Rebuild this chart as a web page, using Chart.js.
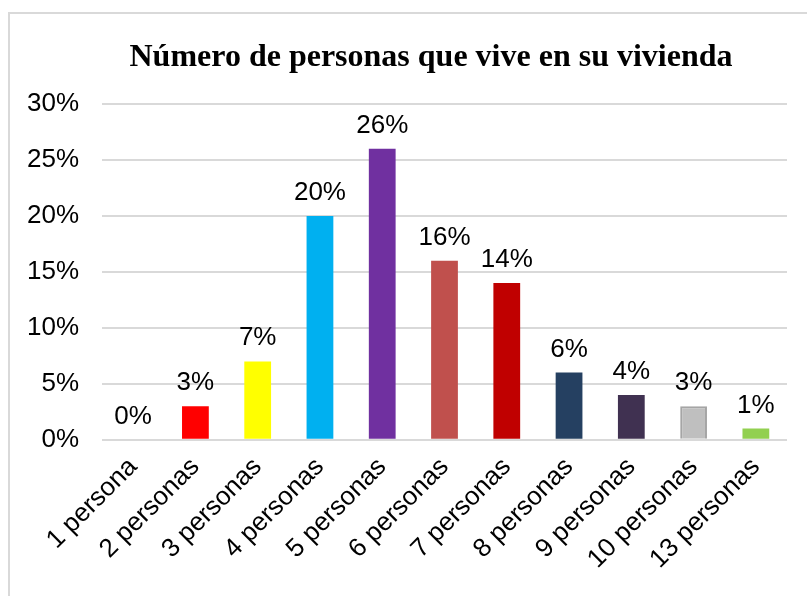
<!DOCTYPE html>
<html>
<head>
<meta charset="utf-8">
<script src="https://cdn.jsdelivr.net/npm/chart.js@4.4.1/dist/chart.umd.min.js"></script>
<style>
  body { margin: 0; background: #fff; }
  .frame {
    position: absolute;
    left: 8px;
    top: 12px;
    width: 820px;
    height: 600px;
    border-left: 2px solid #d9d9d9;
    border-top: 2px solid #d9d9d9;
  }
  canvas { display: block; }
</style>
</head>
<body>
<div class="frame"><canvas id="chart" width="797" height="582"></canvas></div>
<script>
const titleText = 'Número de personas que vive en su vivienda';
const categories = ['1 persona', '2 personas', '3 personas', '4 personas', '5 personas', '6 personas',
    '7 personas', '8 personas', '9 personas', '10 personas', '13 personas'];
const percentages = [0, 3, 7, 20, 26, 16, 14, 6, 4, 3, 1];
const barColors = ['#4472C4', '#FF0000', '#FFFF00', '#00B0F0', '#7030A0', '#C0504D',
    '#C00000', '#254061', '#403151', '#BFBFBF', '#92D050'];
const yTicks = [0, 5, 10, 15, 20, 25, 30];

// draws the value on top of every bar, like the excel data labels
const valueLabels = {
    id: 'valueLabels',
    afterDatasetsDraw(chart) {
        const ctx = chart.ctx;
        const meta = chart.getDatasetMeta(0);
        ctx.save();
        ctx.font = '26px "Liberation Sans", Arial, sans-serif';
        ctx.fillStyle = '#000';
        ctx.textAlign = 'center';
        ctx.textBaseline = 'alphabetic';
        meta.data.forEach((bar, i) => {
            ctx.fillText(percentages[i] + '%', bar.x, bar.y - 16);
        });
        ctx.restore();
    }
};

// title is not centred on the frame in the original, so place it by hand
const titlePlugin = {
    id: 'titlePlugin',
    afterDraw(chart) {
        const ctx = chart.ctx;
        ctx.save();
        ctx.font = 'bold 32px "Liberation Serif", "Times New Roman", serif';
        ctx.fillStyle = '#000';
        ctx.textAlign = 'center';
        ctx.textBaseline = 'alphabetic';
        ctx.fillText(titleText, 421, 52);
        ctx.restore();
    }
};

new Chart(document.getElementById('chart'), {
    type: 'bar',
    data: {
        labels: categories,
        datasets: [{
            data: percentages,
            backgroundColor: barColors,
            borderColor: barColors.map((c, i) => i === 9 ? '#A5A5A5' : c),
            borderWidth: percentages.map((v, i) => i === 9 ? 2 : 0),
            categoryPercentage: 0.86,
            barPercentage: 0.5
        }]
    },
    options: {
        responsive: false,
        animation: false,
        layout: { padding: { top: 90, right: 20, left: 0, bottom: 17 } },
        plugins: {
            legend: { display: false },
            title: { display: false },
            tooltip: { enabled: false }
        },
        scales: {
            x: {
                grid: { display: false },
                border: { display: false },
                afterFit(scale) {
                    // first rotated label may hang past the y labels, like in excel
                    scale.paddingLeft = 0;
                },
                ticks: {
                    color: '#000',
                    font: { family: '"Liberation Sans", Arial, sans-serif', size: 26 },
                    minRotation: 45,
                    maxRotation: 45,
                    padding: 4
                }
            },
            y: {
                min: 0,
                max: 30,
                afterBuildTicks(axis) {
                    axis.ticks = yTicks.map(v => ({ value: v }));
                },
                afterFit(scale) {
                    scale.width = 92;
                },
                grid: { color: '#d9d9d9', lineWidth: 2, drawTicks: false },
                border: { display: false },
                ticks: {
                    color: '#000',
                    padding: 23,
                    font: { family: '"Liberation Sans", Arial, sans-serif', size: 26 },
                    callback: v => v + '%'
                }
            }
        }
    },
    plugins: [valueLabels, titlePlugin]
});
</script>
</body>
</html>
